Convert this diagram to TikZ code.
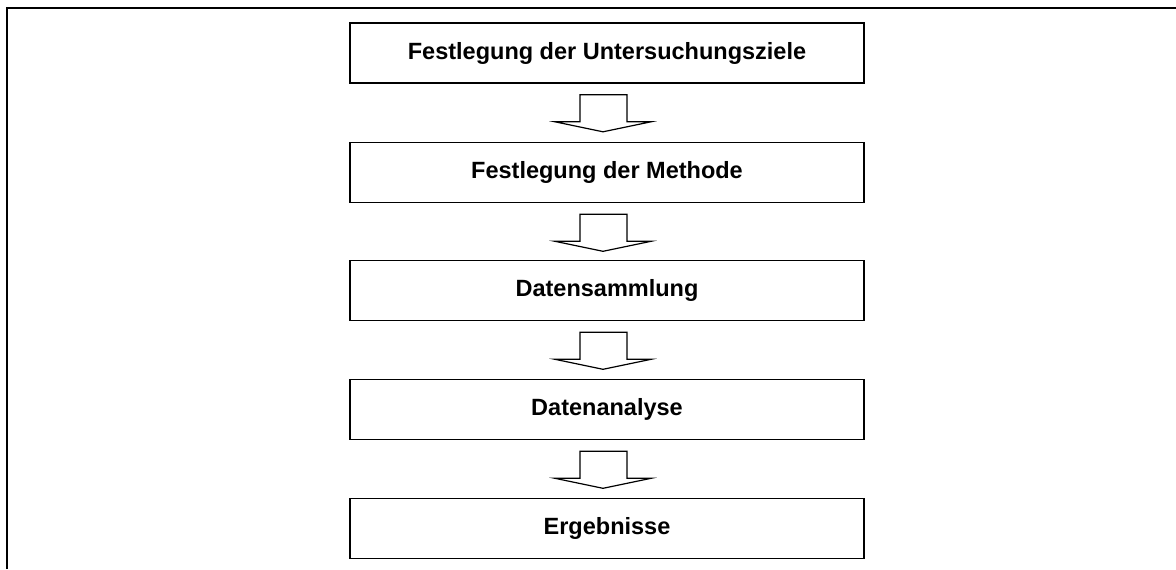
\documentclass[tikz,border=0pt]{standalone}
\usepackage{fontspec}
\setmainfont{Liberation Sans}
\begin{document}
\begin{tikzpicture}[x=0.5pt,y=-0.5pt,
  stepbox/.style={draw=black, line width=0.8pt, fill=white,
    minimum width=257pt, minimum height=30pt, inner sep=0pt,
    font=\fontsize{11.75pt}{14pt}\selectfont\bfseries},
  blockarrow/.style={draw=black, line width=0.6pt, fill=white, line join=miter}]
  \useasboundingbox (0,0) rectangle (1176,569);
  % open frame: top and left edges only
  \draw[line width=1pt] (6.7,569) -- (6.7,7.7) -- (1176,7.7);

  % process steps
  \node[stepbox] (s1) at (607,53)    {Festlegung der Untersuchungsziele};
  \node[stepbox] (s2) at (607,172.5) {Festlegung der Methode};
  \node[stepbox] (s3) at (607,290.5) {Datensammlung};
  \node[stepbox] (s4) at (607,409.5) {Datenanalyse};
  \node[stepbox] (s5) at (607,528.5) {Ergebnisse};

  % block arrows hanging below each step
  \foreach \n in {s1,s2,s3,s4}{
    \draw[blockarrow, shift={(\n.south)}]
      (-27,11) -- (20,11) -- (20,38) -- (44,38) -- (-4,48) -- (-52,38) -- (-27,38) -- cycle;
  }
\end{tikzpicture}
\end{document}
